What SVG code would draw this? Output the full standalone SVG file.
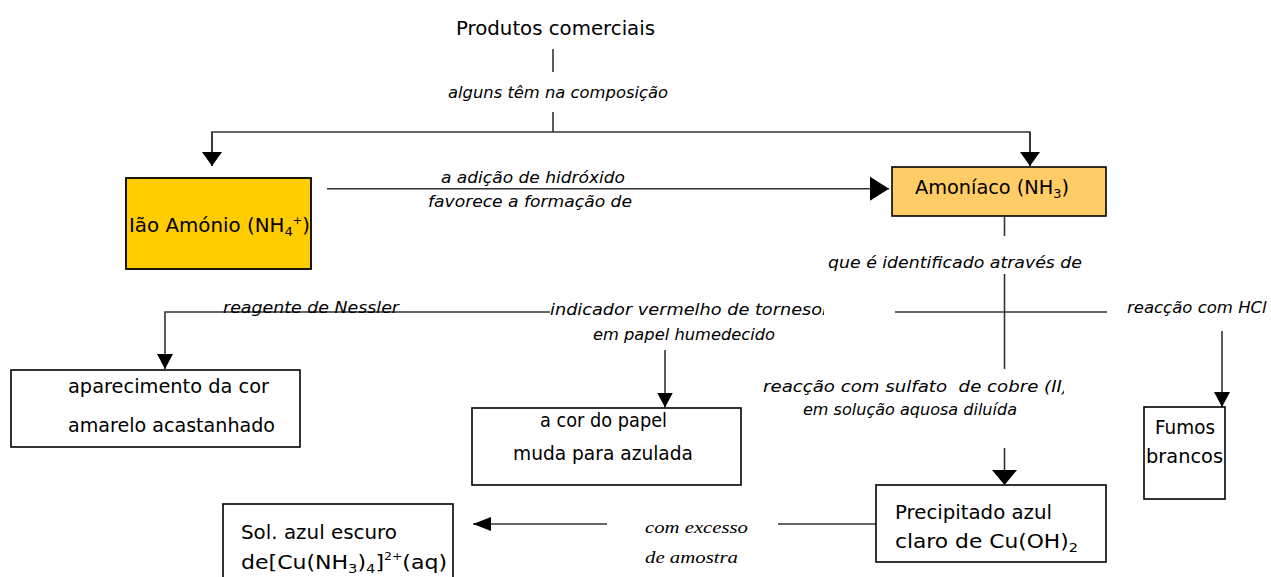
<svg xmlns="http://www.w3.org/2000/svg" width="1271" height="577" viewBox="0 0 1271 577">
<style>
  text { font-family: "DejaVu Sans", "Noto Sans", sans-serif; fill: #000; }
  .t { font-size: 19.5px; }
  .l { font-size: 16.5px; font-style: italic; }
  .s { font-family: "Liberation Serif", "DejaVu Serif", serif; font-size: 17px; font-style: italic; }
  .pre { white-space: pre; }
  .box { fill: #fff; stroke: #000; stroke-width: 1.6; }
  .c { fill: none; stroke: #333; stroke-width: 1.6; }
  .ah { fill: #000; }
</style>
<defs>
  <marker id="m1" markerUnits="userSpaceOnUse" markerWidth="14" markerHeight="20" refX="14" refY="10" orient="auto"><path class="ah" d="M0,0 L14,10 L0,20 Z"/></marker>
  <marker id="m2" markerUnits="userSpaceOnUse" markerWidth="19" markerHeight="24" refX="19" refY="12" orient="auto"><path class="ah" d="M0,0 L19,12 L0,24 Z"/></marker>
  <marker id="m3" markerUnits="userSpaceOnUse" markerWidth="15" markerHeight="16" refX="15" refY="8" orient="auto"><path class="ah" d="M0,0 L15,8 L0,16 Z"/></marker>
  <marker id="m4" markerUnits="userSpaceOnUse" markerWidth="15" markerHeight="25" refX="15" refY="12.5" orient="auto"><path class="ah" d="M0,0 L15,12.5 L0,25 Z"/></marker>
  <marker id="m5" markerUnits="userSpaceOnUse" markerWidth="18" markerHeight="14" refX="18" refY="7" orient="auto"><path class="ah" d="M0,0 L18,7 L0,14 Z"/></marker>
  <clipPath id="clipTornesol"><rect x="540" y="290" width="284" height="40"/></clipPath>
  <clipPath id="clipCobre"><rect x="750" y="370" width="314" height="30"/></clipPath>
</defs>

<g id="connectors">
  <line class="c" x1="553" y1="49" x2="553" y2="72"/>
  <line class="c" x1="553" y1="112" x2="553" y2="132"/>
  <path class="c" d="M212,166 V132 H1030 V166" />
  <line class="c" x1="212" y1="132" x2="212" y2="166" marker-end="url(#m1)"/>
  <line class="c" x1="1030" y1="132" x2="1030" y2="166" marker-end="url(#m1)"/>
  <line class="c" x1="327" y1="188.7" x2="889" y2="188.7" marker-end="url(#m2)"/>
  <line class="c" x1="1004.5" y1="216" x2="1004.5" y2="236"/>
  <line class="c" x1="1004.5" y1="274" x2="1004.5" y2="369"/>
  <line class="c" x1="895" y1="312" x2="1107" y2="312"/>
  <path class="c" d="M550,312 H165 V369" marker-end="url(#m3)"/>
  <line class="c" x1="665" y1="350" x2="665" y2="407.5" marker-end="url(#m3)"/>
  <line class="c" x1="1222" y1="331" x2="1222" y2="407" marker-end="url(#m3)"/>
  <line class="c" x1="1004.5" y1="448" x2="1004.5" y2="485" marker-end="url(#m4)"/>
  <line class="c" x1="778" y1="524" x2="876" y2="524"/>
  <line class="c" x1="607" y1="524" x2="473" y2="524" marker-end="url(#m5)"/>
</g>

<g id="labels">
  <text class="l" x="448" y="98" textLength="220" lengthAdjust="spacingAndGlyphs">alguns têm na composição</text>
  <text class="l" x="441" y="183" textLength="184" lengthAdjust="spacingAndGlyphs">a adição de hidróxido</text>
  <text class="l" x="428" y="207" textLength="204" lengthAdjust="spacingAndGlyphs">favorece a formação de</text>
  <text class="l" x="828" y="268" textLength="254" lengthAdjust="spacingAndGlyphs">que é identificado através de</text>
  <text class="l" x="223" y="313" textLength="176" lengthAdjust="spacingAndGlyphs">reagente de Nessler</text>
  <text class="l" x="550" y="315" textLength="277" lengthAdjust="spacingAndGlyphs" clip-path="url(#clipTornesol)">indicador vermelho de tornesol</text>
  <text class="l" x="593" y="340" textLength="182" lengthAdjust="spacingAndGlyphs">em papel humedecido</text>
  <text class="l" x="1127" y="313">reacção com HCl</text>
  <text class="l pre" x="763" y="392" textLength="306" lengthAdjust="spacingAndGlyphs" clip-path="url(#clipCobre)">reacção com sulfato  de cobre (II)</text>
  <text class="l" x="803" y="415" textLength="214" lengthAdjust="spacingAndGlyphs">em solução aquosa diluída</text>
  <text class="s" x="645" y="533" textLength="103" lengthAdjust="spacingAndGlyphs">com excesso</text>
  <text class="s" x="645" y="563" textLength="93" lengthAdjust="spacingAndGlyphs">de amostra</text>
</g>

<g id="node-produtos">
  <text class="t" x="456" y="35" textLength="199" lengthAdjust="spacingAndGlyphs">Produtos comerciais</text>
</g>

<g id="node-iao">
  <rect x="126" y="178" width="185" height="91" fill="#FFCC00" stroke="#000" stroke-width="1.8"/>
  <text class="t" x="129" y="232" textLength="181" lengthAdjust="spacingAndGlyphs">Ião Amónio (NH<tspan dy="4" font-size="13">4</tspan><tspan dy="-12" font-size="11">+</tspan><tspan dy="8">)</tspan></text>
</g>

<g id="node-amoniaco">
  <rect x="892" y="167" width="214" height="49" fill="#FFCC66" stroke="#000" stroke-width="1.6"/>
  <text class="t" x="915" y="194" textLength="154" lengthAdjust="spacingAndGlyphs">Amoníaco (NH<tspan dy="4" font-size="13">3</tspan><tspan dy="-4">)</tspan></text>
</g>

<g id="node-nessler">
  <rect class="box" x="11" y="370" width="289" height="77"/>
  <text class="t" x="68" y="393" textLength="201" lengthAdjust="spacingAndGlyphs">aparecimento da cor</text>
  <text class="t" x="68" y="432" textLength="207" lengthAdjust="spacingAndGlyphs">amarelo acastanhado</text>
</g>

<g id="node-papel">
  <rect class="box" x="472" y="408" width="269" height="77"/>
  <text class="t" x="540" y="427" textLength="127" lengthAdjust="spacingAndGlyphs">a cor do papel</text>
  <text class="t" x="513" y="460" textLength="180" lengthAdjust="spacingAndGlyphs">muda para azulada</text>
</g>

<g id="node-fumos">
  <rect class="box" x="1144" y="407" width="81" height="92"/>
  <text class="t" x="1155" y="434" textLength="60" lengthAdjust="spacingAndGlyphs">Fumos</text>
  <text class="t" x="1146" y="463" textLength="77" lengthAdjust="spacingAndGlyphs">brancos</text>
</g>

<g id="node-precipitado">
  <rect class="box" x="876" y="485" width="230" height="77"/>
  <text class="t" x="895" y="519" textLength="157" lengthAdjust="spacingAndGlyphs">Precipitado azul</text>
  <text class="t" x="895" y="548" textLength="183" lengthAdjust="spacingAndGlyphs">claro de Cu(OH)<tspan dy="4" font-size="13">2</tspan></text>
</g>

<g id="node-sol">
  <rect class="box" x="223" y="504" width="230" height="80"/>
  <text class="t" x="241" y="539" textLength="156" lengthAdjust="spacingAndGlyphs">Sol. azul escuro</text>
  <text class="t" x="241" y="569" textLength="206" lengthAdjust="spacingAndGlyphs">de[Cu(NH<tspan dy="4" font-size="13">3</tspan><tspan dy="-4">)</tspan><tspan dy="4" font-size="13">4</tspan><tspan dy="-4">]</tspan><tspan dy="-9" font-size="11">2+</tspan><tspan dy="9">(aq)</tspan></text>
</g>
</svg>
